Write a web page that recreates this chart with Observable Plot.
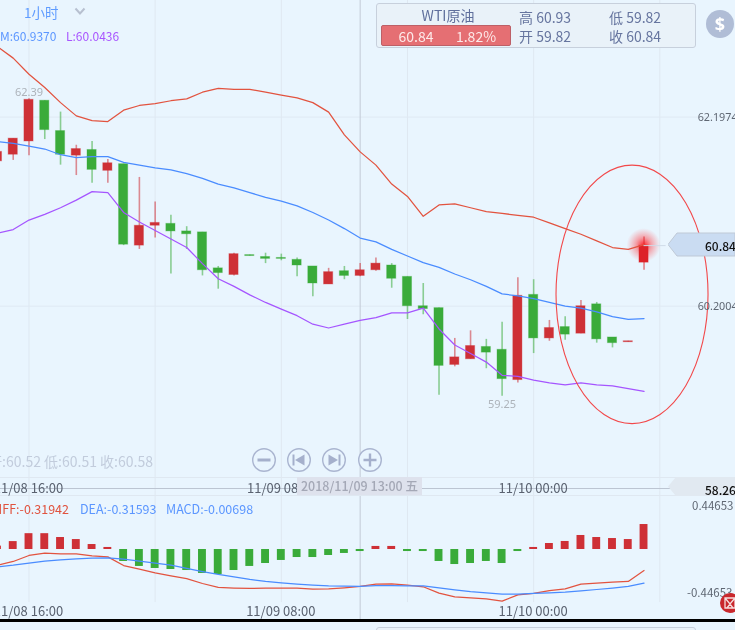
<!DOCTYPE html>
<html><head><meta charset="utf-8">
<script src="https://cdn.jsdelivr.net/npm/d3@7"></script>
<script src="https://cdn.jsdelivr.net/npm/@observablehq/plot@0.6"></script>
<style>
html,body{margin:0;padding:0;background:#e9f5fe;}
#c{position:relative;width:735px;height:630px;overflow:hidden;background:#e9f5fe;font-family:"Noto Sans CJK SC","Noto Sans",sans-serif;filter:blur(.3px);}
#c svg.plot,#c>div>svg{background:transparent;display:block;}
.t{position:absolute;white-space:nowrap;line-height:1;}
.pane{position:absolute;left:0;width:735px;}
</style></head><body><div id="c"></div>
<script>
// candle index: 0 is 11/08 16:00, one candle per hour
const index = d3.range(-2, 40);
const open  = [61.73,61.80,61.94,62.37,62.05,61.79,61.85,61.63,61.70,60.84,61.05,61.07,60.99,60.98,60.60,60.53,60.74,60.72,60.71,60.69,60.62,60.43,60.57,60.52,60.58,60.63,60.51,60.20,60.18,59.58,59.64,59.77,59.74,59.42,60.32,59.86,59.98,59.91,60.22,59.87,59.82,60.66];
const close = [61.83,61.97,62.38,62.06,61.80,61.86,61.64,61.71,60.85,61.05,61.08,60.99,60.96,60.58,60.55,60.75,60.73,60.70,60.70,60.63,60.44,60.56,60.52,60.58,60.65,60.49,60.20,60.17,59.57,59.66,59.78,59.71,59.43,60.31,59.86,59.97,59.90,60.20,59.85,59.81,59.83,60.84];
const high  = [61.83,61.97,62.39,62.37,62.25,61.90,61.94,61.75,61.70,61.56,61.30,61.16,61.04,60.98,60.62,60.76,60.74,60.76,60.75,60.71,60.62,60.60,60.62,60.65,60.71,60.65,60.51,60.44,60.18,59.86,59.94,59.85,60.03,60.50,60.48,60.05,60.09,60.26,60.24,59.87,59.83,60.93];
const low   = [61.73,61.74,61.79,61.96,61.69,61.58,61.50,61.50,60.84,60.80,60.92,60.54,60.80,60.52,60.38,60.52,60.73,60.65,60.68,60.51,60.30,60.43,60.48,60.51,60.57,60.39,60.06,60.11,59.26,59.56,59.64,59.54,59.25,59.39,59.70,59.83,59.84,59.91,59.81,59.76,59.82,60.58];
const bollUpper = [62.94,62.82,62.65,62.51,62.35,62.21,62.16,62.15,62.27,62.32,62.34,62.37,62.39,62.46,62.50,62.49,62.49,62.46,62.43,62.40,62.35,62.25,62.01,61.83,61.69,61.49,61.36,61.15,61.27,61.28,61.24,61.20,61.18,61.16,61.14,61.08,61.02,60.96,60.89,60.82,60.80,60.85];
const bollMid   = [61.94,61.92,61.89,61.86,61.80,61.77,61.78,61.78,61.72,61.69,61.66,61.64,61.60,61.55,61.49,61.45,61.40,61.35,61.31,61.26,61.19,61.11,61.02,60.92,60.88,60.80,60.73,60.66,60.61,60.54,60.48,60.41,60.33,60.31,60.28,60.24,60.20,60.18,60.14,60.09,60.06,60.07];
const bollLower = [60.97,61.01,61.11,61.17,61.24,61.32,61.41,61.40,61.19,61.09,61.00,60.91,60.82,60.65,60.49,60.41,60.32,60.24,60.17,60.10,60.01,59.97,60.01,60.05,60.08,60.13,60.13,60.18,59.96,59.79,59.70,59.61,59.47,59.46,59.42,59.39,59.37,59.39,59.37,59.36,59.33,59.30];
const macdHist = [.03,.07,.14,.14,.106,.088,.044,.018,-.106,-.15,-.168,-.177,-.186,-.212,-.221,-.186,-.15,-.124,-.097,-.071,-.071,-.053,-.035,-.018,.027,.027,-.018,-.018,-.106,-.133,-.124,-.106,-.124,-.018,.018,.053,.071,.124,.106,.097,.088,.221];
const diffLine = [-.139,-.106,-.053,-.032,-.038,-.038,-.056,-.065,-.142,-.174,-.206,-.233,-.257,-.301,-.336,-.342,-.345,-.342,-.342,-.342,-.351,-.348,-.339,-.327,-.307,-.304,-.316,-.330,-.386,-.419,-.428,-.437,-.457,-.401,-.389,-.363,-.348,-.307,-.298,-.289,-.283,-.186];
const deaLine  = [-.153,-.139,-.121,-.103,-.091,-.083,-.077,-.074,-.086,-.103,-.121,-.139,-.168,-.195,-.221,-.242,-.265,-.283,-.295,-.307,-.316,-.322,-.324,-.327,-.319,-.319,-.322,-.322,-.339,-.357,-.372,-.383,-.395,-.395,-.389,-.383,-.378,-.366,-.354,-.342,-.327,-.298];
const gridIdx = [0,8,16,24,32,40];
const timeIdx = [0,16,32];
const timeLabels = ["11/08 16:00","11/09 08:00","11/10 00:00"];
const priceTicks = [62.1974,60.2004];
const highLabel = [{i:0,p:62.39,s:"62.39"}];
const lowLabel = [{i:30,p:59.25,s:"59.25"}];
const crosshair = 21, lastIdx = 39, lastPrice = 60.84;
const marker = {i:38.27, p:60.32, rx:4.82, rp:1.365};

const RED="#ce3036", GREEN="#3aab3a";
const rows = index.map((i,k)=>({i,o:open[k],c:close[k],h:high[k],l:low[k],up:bollUpper[k],mid:bollMid[k],lo:bollLower[k],m:macdHist[k],diff:diffLine[k],dea:deaLine[k]}));
const col = d => d.i===lastIdx ? "#dd2228" : (d.c>=d.o ? RED : GREEN);
const xOpt = {domain:[-1.807,44.8],range:[0,735],axis:null};
const FONT='"Noto Sans","Noto Sans CJK SC",sans-serif';

function glow(_, s){
  const g = d3.create("svg:g");
  const gr = g.append("defs").append("radialGradient").attr("id","glowG");
  gr.append("stop").attr("offset","0").attr("stop-color","#ff1820").attr("stop-opacity",.95);
  gr.append("stop").attr("offset",".45").attr("stop-color","#ff3a40").attr("stop-opacity",.45);
  gr.append("stop").attr("offset","1").attr("stop-color","#ff5a60").attr("stop-opacity",0);
  g.append("circle").attr("cx",s.x(lastIdx)).attr("cy",s.y(lastPrice)).attr("r",17).attr("fill","url(#glowG)");
  return g.node();
}
function ellipse(_, s){
  return d3.create("svg:ellipse")
    .attr("cx",s.x(marker.i)).attr("cy",s.y(marker.p))
    .attr("rx",s.x(marker.i+marker.rx)-s.x(marker.i))
    .attr("ry",s.y(marker.p-marker.rp)-s.y(marker.p))
    .attr("fill","none").attr("stroke","#f2484a").attr("stroke-width",1.1).node();
}

const main = Plot.plot({
  width:735,height:490,margin:0,style:{background:"transparent",fontFamily:FONT},
  x:xOpt,
  y:{domain:[58.254,63.4286],range:[490,0],axis:null},
  marks:[
    Plot.ruleX(gridIdx,{stroke:"#dfe8f1",strokeWidth:1}),
    Plot.ruleY(priceTicks,{stroke:"#dfe9f3",strokeWidth:1}),
    Plot.ruleX([crosshair],{stroke:"#c2cad6",strokeWidth:1}),
    glow,
    Plot.ruleX(rows,{x:"i",y1:"l",y2:"h",stroke:col,strokeOpacity:.55,strokeWidth:1.6}),
    Plot.rect(rows,{x1:d=>d.i-.29,x2:d=>d.i+.29,y1:"o",y2:"c",fill:col,stroke:col,strokeOpacity:.35,strokeWidth:1}),
    Plot.line(rows,{x:"i",y:"up",stroke:"#e2533f",strokeWidth:1.25}),
    Plot.line(rows,{x:"i",y:"mid",stroke:"#4a8cff",strokeWidth:1.25}),
    Plot.line(rows,{x:"i",y:"lo",stroke:"#a555ff",strokeWidth:1.25}),
    Plot.ruleY([lastPrice],{x1:lastIdx,x2:40.4,stroke:"#cfdbe8",strokeWidth:1}),
    ellipse,
    Plot.text(priceTicks,{x:()=>42.4,y:d=>d,text:d=>d.toFixed(4),textAnchor:"start",fontSize:10.8,fill:"#5f6773"}),
    Plot.text(highLabel,{x:"i",y:"p",text:"s",dy:-6,fontSize:11,fill:"#adb3ba"}),
    Plot.text(lowLabel,{x:"i",y:"p",text:"s",dy:8,fontSize:11,fill:"#adb3ba"})
  ]
});
const macd = Plot.plot({
  width:735,height:129,margin:0,style:{background:"transparent",fontFamily:FONT},
  x:xOpt,
  y:{domain:[-0.6195,0.5221],range:[129,0],axis:null},
  marks:[
    Plot.ruleX(gridIdx,{y1:-0.47,y2:0.52,stroke:"#dfe8f1",strokeWidth:1}),
    Plot.ruleX([crosshair],{stroke:"#c2cad6",strokeWidth:1}),
    Plot.rect(rows,{x1:d=>d.i-.25,x2:d=>d.i+.25,y1:()=>0,y2:"m",fill:d=>d.m>=0?RED:GREEN}),
    Plot.line(rows,{x:"i",y:"diff",stroke:"#e2533f",strokeWidth:1.25}),
    Plot.line(rows,{x:"i",y:"dea",stroke:"#4a8cff",strokeWidth:1.25})
  ]
});

const c = document.getElementById("c");
const add = (el,top)=>{const d=document.createElement("div");d.className="pane";d.style.top=top+"px";d.appendChild(el);c.appendChild(d);};
add(main,0); add(macd,490);

function html(s){const t=document.createElement("template");t.innerHTML=s.trim();const e=t.content.firstChild;c.appendChild(e);return e;}
function text(s,x,y,size,color,extra=""){return html(`<div class="t" style="left:${x}px;top:${y}px;font-size:${size}px;color:${color};transform:translateY(-50%);${extra}">${s}</div>`);}
function ctext(s,x,y,size,color,extra=""){return html(`<div class="t" style="left:${x}px;top:${y}px;font-size:${size}px;color:${color};transform:translate(-50%,-50%);${extra}">${s}</div>`);}
function rtext(s,r,y,size,color,extra=""){return html(`<div class="t" style="right:${735-r}px;top:${y}px;font-size:${size}px;color:${color};transform:translateY(-50%);${extra}">${s}</div>`);}

// header
text("1小时",24,13,13.5,"#5f9cff");
html(`<svg style="position:absolute;left:74px;top:7px" width="12" height="9"><path d="M1.5 1.5L6 6.5L10.5 1.5" fill="none" stroke="#b7c0d0" stroke-width="2"/></svg>`);
text("M:60.9370",0,35.5,12,"#5b96ff"); text("L:60.0436",66,35.5,12,"#a855ff");

// quote box
html(`<div style="position:absolute;left:376px;top:3px;width:318px;height:43px;border:1px solid #c7d0dc;border-radius:3px;background:#e9f2f9"></div>`);
ctext("WTI原油",448,15,14,"#5f6f9c");
html(`<div style="position:absolute;left:381px;top:25px;width:128px;height:19px;border:1px solid #bd6067;border-radius:2px;background:#e56f73"></div>`);
ctext("60.84",416,35.5,14,"#fde9e9"); ctext("1.82%",476,35.5,14,"#fde9e9");
text("高 60.93",519,17,14,"#66759f"); text("开 59.82",519,36,14,"#66759f");
text("低 59.82",609,17,14,"#66759f"); text("收 60.84",609,36,14,"#66759f");
html(`<svg style="position:absolute;left:706px;top:10px" width="28" height="28"><circle cx="14" cy="14" r="14" fill="#b0bdd6"/><text x="14" y="20.5" text-anchor="middle" font-size="18" font-weight="700" fill="#fff" font-family="Noto Sans">$</text></svg>`);

// 60.84 tag
html(`<svg style="position:absolute;left:668px;top:232px" width="67" height="25"><path d="M0 12.5L9 1H67V24H9Z" fill="#cadcf2" stroke="#bfc9d6"/></svg>`);
text("60.84",705,246,12,"#111",'font-weight:500;');

// faint OHLC readout
rtext("开:60.52 低:60.51 收:60.58",153,461,14,"#c2ccdc");

// nav buttons
[[264,'<path d="M-6.5 0H6.5" stroke="#a5b0cc" stroke-width="3"/>'],
 [299,'<path d="M-5.5 -5.5V5.5" stroke="#a5b0cc" stroke-width="2"/><path d="M5.5 -5.5V5.5L-4 0Z" fill="#a5b0cc"/>'],
 [334,'<path d="M5.5 -5.5V5.5" stroke="#a5b0cc" stroke-width="2"/><path d="M-5.5 -5.5V5.5L4 0Z" fill="#a5b0cc"/>'],
 [369.5,'<path d="M-6.5 0H6.5M0 -6.5V6.5" stroke="#a5b0cc" stroke-width="2.4"/>']
].forEach(([x,p])=>html(`<svg style="position:absolute;left:${x-13}px;top:447px" width="26" height="26"><g transform="translate(13,13)"><circle r="11.3" fill="#e9f5fe" stroke="#aab5d0" stroke-width="1.4"/>${p}</g></svg>`));

// time strip between panes
html(`<div style="position:absolute;left:0;top:476.5px;width:735px;height:1px;background:#dfe8f1"></div>`);
html(`<div style="position:absolute;left:0;top:495px;width:735px;height:1px;background:#dfe8f1"></div>`);
html(`<div style="position:absolute;left:0;top:488px;width:672px;height:1px;background:#bcc5d2"></div>`);
html(`<svg style="position:absolute;left:668px;top:477px" width="67" height="19"><path d="M0 9.5L8 0H67V19H8Z" fill="#e1e9f1"/></svg>`);
text("58.26",705,490,12,"#111",'font-weight:500;');
ctext(timeLabels[0],28.5,486.5,13,"#5a6270");
text(timeLabels[1].slice(0,8),247,486.5,13,"#5a6270");
ctext(timeLabels[2],28.5+15.77*timeIdx[2],486.5,13,"#5a6270");
timeIdx.forEach((k,n)=>ctext(timeLabels[n],28.5+15.77*k,610,13,"#5a6270"));
html(`<div class="t" style="left:297px;top:477px;width:125px;height:18px;background:#dee2ed;color:#a4a8b6;font-size:12.5px;line-height:18px;text-align:center;font-weight:500">2018/11/09 13:00 五</div>`);

// macd legend and axis
rtext("DIFF:-0.31942",69,509,12.5,"#e0533f");
text("DEA:-0.31593",80,509,12.5,"#5b96ff");
text("MACD:-0.00698",166,509,12.5,"#5b96ff");
text("0.44653",692,506,11.5,"#5f6773");
text("-0.44653",687,593,11.5,"#5f6773");
html(`<svg style="position:absolute;left:720px;top:593px" width="20" height="20"><circle cx="10" cy="10" r="10" fill="#c9282d"/><path d="M5 5H15V15H5ZM5 5L10 11L15 5M7 15L10 11L13 15" fill="none" stroke="#f6dede" stroke-width="1.3"/></svg>`);

// bottom band
html(`<div style="position:absolute;left:0;top:619px;width:735px;height:3px;background:#000"></div>`);
html(`<div style="position:absolute;left:376px;top:627px;width:318px;height:10px;border:1px solid #c7d0dc;border-radius:3px;background:#e9f2f9"></div>`);
</script></body></html>
